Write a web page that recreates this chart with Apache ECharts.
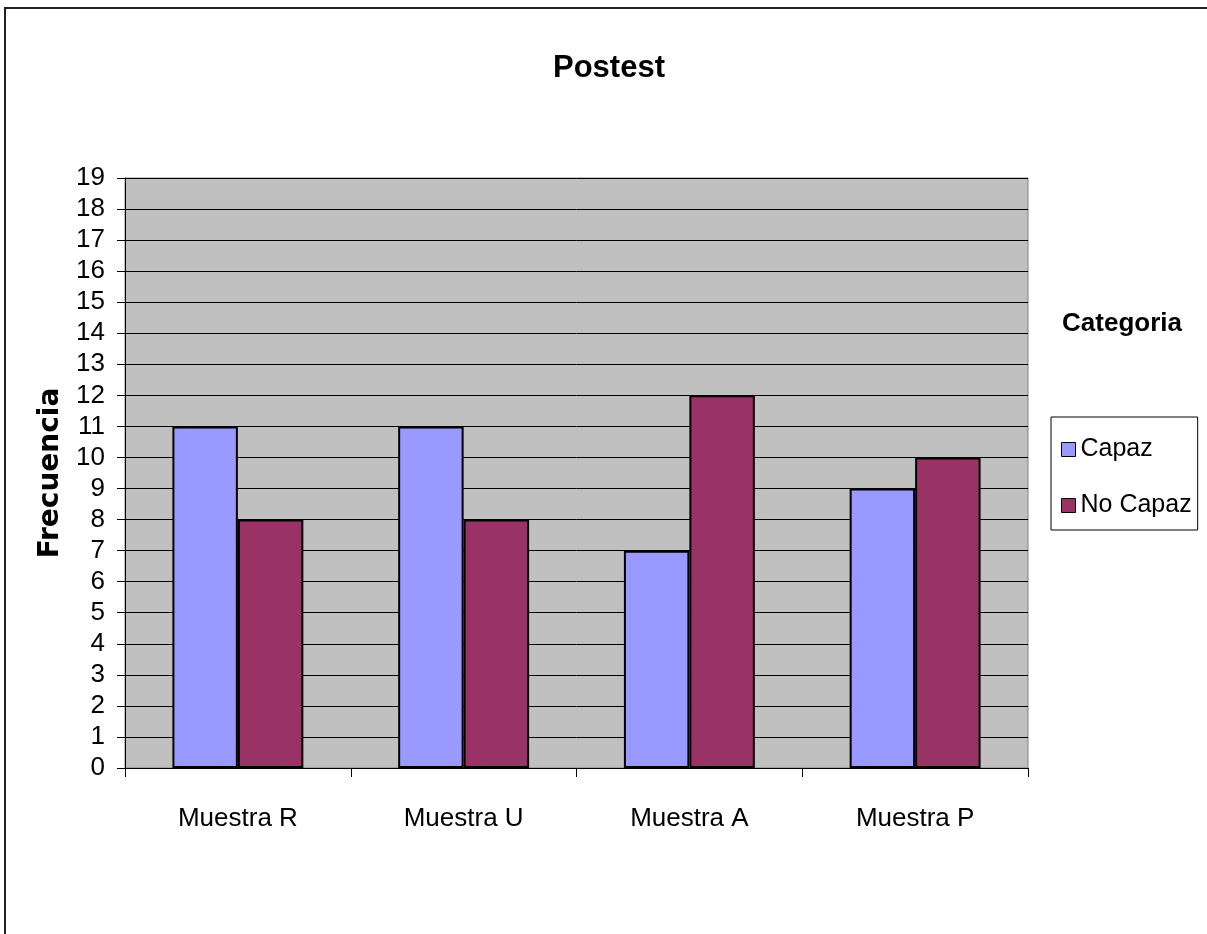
<!DOCTYPE html>
<html>
<head>
<meta charset="utf-8">
<title>Postest</title>
<script src="https://cdn.jsdelivr.net/npm/echarts@6/dist/echarts.min.js"></script>
<style>
  html, body { margin: 0; padding: 0; background: #fff; }
  #chart { width: 1207px; height: 934px; }
</style>
</head>
<body>
<div id="chart"></div>
<script>
// Frequencies per sample and category
const categories = ['Muestra R', 'Muestra U', 'Muestra A', 'Muestra P'];
const capaz = [11, 11, 7, 9];
const noCapaz = [8, 8, 12, 10];
const seriesNames = ['Capaz', 'No Capaz'];

const sans = "'Liberation Sans Narrow', 'Arial Narrow', 'Liberation Sans', Arial, sans-serif";

const chart = echarts.init(document.getElementById('chart'), null, { renderer: 'canvas' });

chart.setOption({
  backgroundColor: '#ffffff',
  animation: false,
  title: [
    {
      text: 'Postest',
      left: 604,
      textAlign: 'center',
      top: 48,
      textStyle: { fontFamily: sans, fontSize: 31, fontWeight: 'bold', color: '#000' }
    },
    {
      text: 'Categoria',
      left: 1117,
      textAlign: 'center',
      top: 306,
      textStyle: { fontFamily: sans, fontSize: 26, fontWeight: 'bold', color: '#000' }
    }
  ],
  legend: {
    orient: 'vertical',
    left: 1051,
    top: 417,
    padding: [20, 6, 12, 10],
    itemGap: 31,
    itemWidth: 14,
    itemHeight: 14,
    itemTextGap: 9,
    icon: 'rect',
    borderColor: '#000',
    borderWidth: 1,
    backgroundColor: '#fff',
    itemStyle: { borderColor: '#000', borderWidth: 1 },
    textStyle: { fontFamily: sans, fontSize: 25, color: '#000' },
    data: seriesNames
  },
  grid: {
    left: 125,
    top: 178,
    right: 179,
    bottom: 166,
    show: true,
    backgroundColor: '#C0C0C0',
    borderColor: '#808080',
    borderWidth: 1,
    containLabel: false
  },
  xAxis: {
    type: 'category',
    data: categories,
    axisLine: { show: true, lineStyle: { color: '#000', width: 1 } },
    axisTick: { show: true, length: 9, lineStyle: { color: '#000' } },
    axisLabel: { margin: 38, fontFamily: sans, fontSize: 26, color: '#000' },
    splitLine: { show: false }
  },
  yAxis: {
    type: 'value',
    min: 0,
    max: 19,
    interval: 1,
    name: 'Frecuencia',
    nameLocation: 'middle',
    nameGap: 58,
    nameRotate: 90,
    nameTextStyle: { fontFamily: "'DejaVu Sans', sans-serif", fontSize: 28, fontWeight: 'bold', color: '#000' },
    axisLine: { show: true, lineStyle: { color: '#000', width: 1 } },
    axisTick: { show: true, inside: false, length: 8, lineStyle: { color: '#000' } },
    axisLabel: { margin: 20, fontFamily: sans, fontSize: 26, color: '#000' },
    splitLine: { show: true, lineStyle: { color: '#000', width: 1 } }
  },
  series: [
    {
      name: seriesNames[0],
      type: 'bar',
      data: capaz,
      barGap: '0%',
      barCategoryGap: '42%',
      itemStyle: { color: '#9999FF', borderColor: '#000', borderWidth: 2 }
    },
    {
      name: seriesNames[1],
      type: 'bar',
      data: noCapaz,
      itemStyle: { color: '#993366', borderColor: '#000', borderWidth: 2 }
    }
  ],
  graphic: [
    {
      type: 'rect',
      silent: true,
      shape: { x: 5, y: 8, width: 1400, height: 1200 },
      style: { fill: null, stroke: '#222', lineWidth: 2 }
    }
  ]
});
</script>
</body>
</html>
